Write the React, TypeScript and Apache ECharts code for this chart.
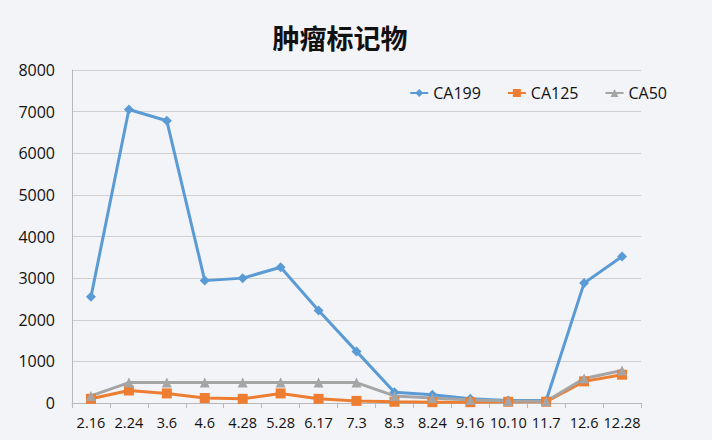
import React, { useEffect, useRef } from 'react';
import * as echarts from 'echarts';

const dates = ['2.16', '2.24', '3.6', '4.6', '4.28', '5.28', '6.17', '7.3', '8.3', '8.24', '9.16', '10.10', '11.7', '12.6', '12.28'];
const ca199 = [2550, 7050, 6780, 2940, 3000, 3260, 2220, 1240, 260, 200, 100, 60, 60, 2880, 3520];
const ca125 = [100, 300, 230, 120, 100, 230, 100, 50, 30, 20, 20, 30, 30, 520, 680];
const ca50 = [170, 490, 490, 490, 490, 490, 490, 490, 170, 120, 70, 50, 40, 590, 780];

const FONT = '"Open Sans", "Noto Sans", sans-serif';

const App: React.FC = () => {
  const chartRef = useRef<HTMLDivElement>(null);

  useEffect(() => {
    document.body.style.margin = '0';
    if (!chartRef.current) return;
    const chart = echarts.init(chartRef.current, undefined, { renderer: 'svg' });

    const mk = (name: string, data: number[], color: string, symbol: string, size: number) => ({
      name,
      type: 'line' as const,
      data,
      symbol,
      symbolSize: size,
      showAllSymbol: true,
      lineStyle: { color, width: 3 },
      itemStyle: { color },
      emphasis: { disabled: true }
    });

    chart.setOption({
      animation: false,
      backgroundColor: '#f3f4f8',
      title: {
        text: '肿瘤标记物',
        left: 335,
        top: 19,
        textAlign: 'center',
        textStyle: { fontFamily: '"Noto Sans CJK SC", sans-serif', fontSize: 27, fontWeight: 'bold', color: '#111' }
      },
      legend: {
        right: 40,
        top: 80,
        itemWidth: 18,
        itemHeight: 10,
        itemGap: 26,
        textStyle: { fontFamily: FONT, fontSize: 16, color: '#111' },
        data: ['CA199', 'CA125', 'CA50']
      },
      grid: { left: 72, right: 71, top: 70, bottom: 37 },
      xAxis: {
        type: 'category',
        data: dates,
        boundaryGap: true,
        axisLine: { lineStyle: { color: '#b8b8b8' } },
        axisTick: { show: true, length: 5, lineStyle: { color: '#b8b8b8' } },
        axisLabel: { fontFamily: FONT, fontSize: 14.5, color: '#111', margin: 12, interval: 0 }
      },
      yAxis: {
        type: 'value',
        min: 0,
        max: 8000,
        interval: 1000,
        axisLine: { show: true, lineStyle: { color: '#b8b8b8' } },
        axisTick: { show: false },
        splitLine: { lineStyle: { color: '#cfcfcf' } },
        axisLabel: { fontFamily: FONT, fontSize: 16, color: '#111', margin: 17, formatter: (v: number) => String(v) }
      },
      series: [
        mk('CA199', ca199, '#5b9bd5', 'diamond', 10),
        mk('CA125', ca125, '#ed7d31', 'rect', 10),
        mk('CA50', ca50, '#a5a5a5', 'triangle', 10)
      ]
    });

    return () => chart.dispose();
  }, []);

  return <div ref={chartRef} style={{ width: 712, height: 440 }} />;
};

export default App;
